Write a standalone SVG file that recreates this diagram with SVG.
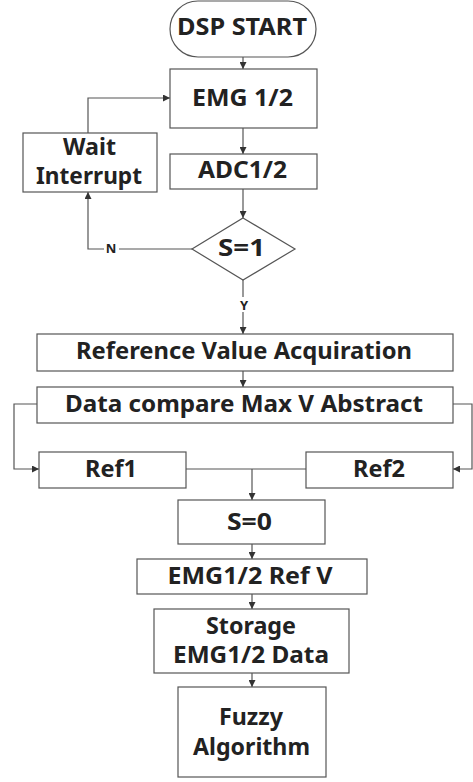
<svg xmlns="http://www.w3.org/2000/svg" width="473" height="782" viewBox="0 0 473 782">
<style>
.box{fill:#fff;stroke:#555;stroke-width:1.2}
.t{font-family:"Noto Sans","Liberation Sans",sans-serif;font-weight:bold;font-size:23px;fill:#222;text-anchor:middle}
.s{font-family:"Noto Sans","Liberation Sans",sans-serif;font-weight:bold;font-size:13px;fill:#222;text-anchor:middle}
.c{fill:none;stroke:#555;stroke-width:1.2}
</style>
<defs>
<marker id="a" viewBox="0 0 10 10" refX="10" refY="5" markerWidth="7" markerHeight="7" orient="auto" markerUnits="userSpaceOnUse"><path d="M0,0 L10,5 L0,10 z" fill="#333"/></marker>
</defs>
<rect width="473" height="782" fill="#fff"/>
<g id="connectors">
<path class="c" d="M243,57 V69" marker-end="url(#a)"/>
<path class="c" d="M243,128 V154" marker-end="url(#a)"/>
<path class="c" d="M243,189 V218" marker-end="url(#a)"/>
<path class="c" d="M192,249 H88 V192" marker-end="url(#a)"/>
<path class="c" d="M88,133 V98 H170" marker-end="url(#a)"/>
<path class="c" d="M243,280 V334" marker-end="url(#a)"/>
<path class="c" d="M243,371 V387" marker-end="url(#a)"/>
<path class="c" d="M37,404 H14 V469 H39" marker-end="url(#a)"/>
<path class="c" d="M453,404 H472 V469 H453" marker-end="url(#a)"/>
<path class="c" d="M186,469 H306"/>
<path class="c" d="M252,469 V500" marker-end="url(#a)"/>
<path class="c" d="M252,544 V559" marker-end="url(#a)"/>
<path class="c" d="M252,594 V609" marker-end="url(#a)"/>
<path class="c" d="M252,673 V687" marker-end="url(#a)"/>
<rect x="104" y="243" width="15" height="13" fill="#fff"/>
<text class="s" x="111" y="253">N</text>
<rect x="237" y="297" width="14" height="15" fill="#fff"/>
<text class="s" x="244" y="310">Y</text>
</g>
<g id="start"><rect class="box" x="170" y="1" width="146" height="56" rx="28"/><text class="t" x="242" y="35" textLength="130" lengthAdjust="spacingAndGlyphs">DSP START</text></g>
<g id="emg"><rect class="box" x="170" y="69" width="147" height="59"/><text class="t" x="242.5" y="106" textLength="101" lengthAdjust="spacingAndGlyphs">EMG 1/2</text></g>
<g id="wait"><rect class="box" x="23" y="133" width="134" height="59"/><text class="t" x="89.5" y="155" textLength="53" lengthAdjust="spacingAndGlyphs">Wait</text><text class="t" x="89" y="184" textLength="106" lengthAdjust="spacingAndGlyphs">Interrupt</text></g>
<g id="adc"><rect class="box" x="170" y="154" width="147" height="35"/><text class="t" x="242.5" y="178" textLength="89" lengthAdjust="spacingAndGlyphs">ADC1/2</text></g>
<g id="decision"><polygon class="box" points="243,218 295,249 243,280 192,249"/><text class="t" x="241.5" y="256" textLength="47" lengthAdjust="spacingAndGlyphs">S=1</text></g>
<g id="refval"><rect class="box" x="37" y="334" width="416" height="37"/><text class="t" x="244" y="359" textLength="336" lengthAdjust="spacingAndGlyphs">Reference Value Acquiration</text></g>
<g id="compare"><rect class="box" x="37" y="387" width="416" height="36"/><text class="t" x="244" y="412" textLength="358" lengthAdjust="spacingAndGlyphs">Data compare Max V Abstract</text></g>
<g id="ref1"><rect class="box" x="39" y="452" width="147" height="36"/><text class="t" x="111" y="477" textLength="52" lengthAdjust="spacingAndGlyphs">Ref1</text></g>
<g id="ref2"><rect class="box" x="306" y="452" width="147" height="36"/><text class="t" x="379" y="477" textLength="52" lengthAdjust="spacingAndGlyphs">Ref2</text></g>
<g id="s0"><rect class="box" x="178" y="500" width="147" height="44"/><text class="t" x="249.5" y="530" textLength="45" lengthAdjust="spacingAndGlyphs">S=0</text></g>
<g id="refv"><rect class="box" x="137" y="559" width="230" height="35"/><text class="t" x="250" y="584" textLength="165" lengthAdjust="spacingAndGlyphs">EMG1/2 Ref V</text></g>
<g id="storage"><rect class="box" x="154" y="609" width="195" height="64"/><text class="t" x="251" y="634" textLength="90" lengthAdjust="spacingAndGlyphs">Storage</text><text class="t" x="251" y="663" textLength="156" lengthAdjust="spacingAndGlyphs">EMG1/2 Data</text></g>
<g id="fuzzy"><rect class="box" x="178" y="687" width="148" height="90"/><text class="t" x="251" y="725" textLength="64" lengthAdjust="spacingAndGlyphs">Fuzzy</text><text class="t" x="251.5" y="755" textLength="117" lengthAdjust="spacingAndGlyphs">Algorithm</text></g>
</svg>
